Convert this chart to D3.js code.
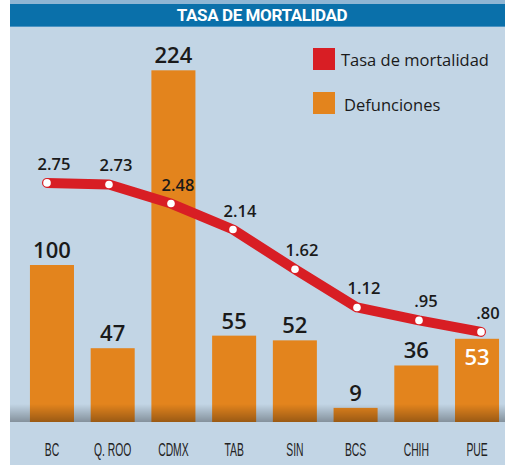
<!DOCTYPE html>
<html>
<head>
<meta charset="utf-8">
<script src="https://cdn.jsdelivr.net/npm/d3@7"></script>
<style>
  html, body { margin: 0; padding: 0; background: #fff; }
  svg { display: block; }
</style>
</head>
<body>
<div id="chart"></div>
<script>
//**  Data
var estados = ["BC", "Q. ROO", "CDMX", "TAB", "SIN", "BCS", "CHIH", "PUE"];
var defunciones = [100, 47, 224, 55, 52, 9, 36, 53];
var tasa = [2.75, 2.73, 2.48, 2.14, 1.62, 1.12, 0.95, 0.80];
var tasaLabels = ["2.75", "2.73", "2.48", "2.14", "1.62", "1.12", ".95", ".80"];
var titulo = "TASA DE MORTALIDAD";
var leyenda = ["Tasa de mortalidad", "Defunciones"];

var width = 505, height = 465;
var colors = {
    panel: "#c2d5e5",
    title: "#0a70aa",
    strip: "#8fb6d4",
    bar: "#e3841d",
    line: "#d81e24",
    text: "#1a1a1a"
};

var svg = d3.select("#chart").append("svg")
    .attr("width", width)
    .attr("height", height);

//**  Background
svg.append("rect").attr("x", 10).attr("y", 0).attr("width", width - 10).attr("height", height)
    .attr("fill", colors.panel);
svg.append("rect").attr("x", 10).attr("y", 0).attr("width", width - 10).attr("height", 4)
    .attr("fill", colors.strip);
svg.append("rect").attr("x", 10).attr("y", 4).attr("width", width - 10).attr("height", 22)
    .attr("fill", colors.title);
svg.append("rect").attr("x", 10).attr("y", 26).attr("width", width - 10).attr("height", 1)
    .attr("fill", "#4b93c2");

svg.append("text")
    .attr("x", 262).attr("y", 21)
    .attr("text-anchor", "middle")
    .attr("fill", "#fff")
    .style("font-family", "Roboto, sans-serif")
    .style("font-weight", "bold")
    .style("font-size", "17px")
    .style("letter-spacing", "-0.4px")
    .text(titulo);

//**  Scales
var baseline = 422;
var x = d3.scaleBand().domain(estados).range([21.6, 507.4])
    .paddingInner(0.275).paddingOuter(0.1375);
var y = d3.scaleLinear().domain([0, 100]).range([baseline, baseline - 157]);
var xLine = d3.scalePoint().domain(estados).range([47, 481]);
var yLine = d3.scaleLinear().domain([0, 1]).range([393, 393 - 76.4]);

//**  Bars
var bars = svg.append("g");
bars.selectAll("rect")
    .data(defunciones)
    .enter()
    .append("rect")
    .attr("x", function(d, i){ return x(estados[i]); })
    .attr("y", function(d){ return y(d); })
    .attr("width", x.bandwidth())
    .attr("height", function(d){ return baseline - y(d); })
    .attr("fill", colors.bar);

// shadow above the baseline
var defs = svg.append("defs");
var grad = defs.append("linearGradient").attr("id", "shade")
    .attr("x1", 0).attr("y1", 0).attr("x2", 0).attr("y2", 1);
grad.append("stop").attr("offset", "0%").attr("stop-color", "#000").attr("stop-opacity", 0);
grad.append("stop").attr("offset", "100%").attr("stop-color", "#000").attr("stop-opacity", 0.32);
svg.append("rect").attr("x", 10).attr("y", 404).attr("width", width - 10).attr("height", baseline - 404)
    .attr("fill", "url(#shade)");

//**  Axis
var axis = svg.append("g")
    .attr("transform", "translate(0," + baseline + ")")
    .call(d3.axisBottom(x).tickSize(0).tickPadding(21));
axis.select(".domain").remove();
axis.selectAll("text")
    .attr("transform", "scale(0.56,1)")
    .attr("fill", "#222")
    .style("font-family", "'Liberation Sans', sans-serif")
    .style("font-size", "18.5px");

//**  Line
var line = d3.line()
    .x(function(d, i){ return xLine(estados[i]); })
    .y(function(d){ return yLine(d); });

svg.append("path")
    .datum(tasa)
    .attr("d", line)
    .attr("fill", "none")
    .attr("stroke", colors.line)
    .attr("stroke-width", 10)
    .attr("stroke-linejoin", "round")
    .attr("stroke-linecap", "round");

svg.append("g").selectAll("circle")
    .data(tasa)
    .enter()
    .append("circle")
    .attr("cx", function(d, i){ return xLine(estados[i]); })
    .attr("cy", function(d){ return yLine(d); })
    .attr("r", 3.8)
    .attr("fill", "#fff");

svg.append("g").selectAll("text")
    .data(tasa)
    .enter()
    .append("text")
    .attr("x", function(d, i){ return xLine(estados[i]) + 7; })
    .attr("y", function(d){ return yLine(d) - 13; })
    .attr("text-anchor", "middle")
    .attr("fill", colors.text)
    .style("font-family", "'Open Sans', sans-serif")
    .style("font-weight", 600)
    .style("font-size", "16.5px")
    .text(function(d, i){ return tasaLabels[i]; });

//**  Bar labels (moved inside the bar when the line runs over them)
svg.append("g").selectAll("text")
    .data(defunciones)
    .enter()
    .append("text")
    .each(function(d, i){
        var top = y(d);
        var inside = Math.abs(yLine(tasa[i]) - (top - 12)) < 20;
        d3.select(this)
            .attr("x", x(estados[i]) + x.bandwidth() / 2)
            .attr("y", inside ? top + 26 : top - 7)
            .attr("fill", inside ? "#fff" : colors.text);
    })
    .attr("text-anchor", "middle")
    .style("font-family", "'Open Sans', sans-serif")
    .style("font-weight", 600)
    .style("font-size", "22px")
    .text(function(d){ return d; });

//**  Legend
var legend = svg.append("g");
var legendColors = [colors.line, colors.bar];
legendColors.forEach(function(c, i){
    legend.append("rect")
        .attr("x", 313).attr("y", 48 + i * 44)
        .attr("width", 22).attr("height", 22)
        .attr("fill", c);
    legend.append("text")
        .attr("x", 341 + i * 3).attr("y", 66 + i * 45)
        .attr("fill", colors.text)
        .style("font-family", "'Open Sans', sans-serif")
        .style("font-size", "16.5px")
        .text(leyenda[i]);
});
</script>
</body>
</html>
